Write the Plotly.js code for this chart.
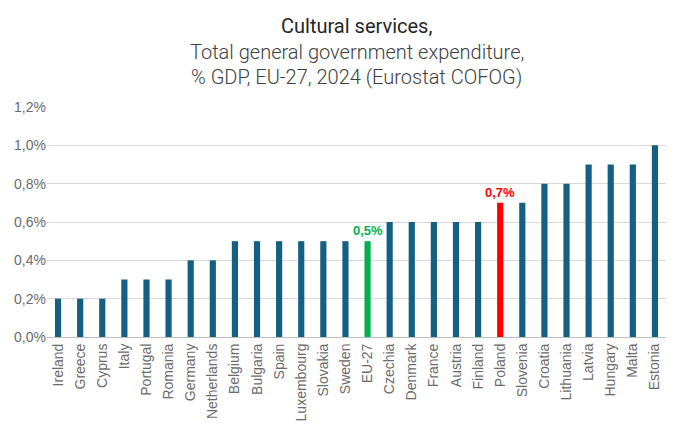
<!DOCTYPE html>
<html>
<head>
<meta charset="utf-8">
<script src="https://cdn.plot.ly/plotly-3.0.1.min.js"></script>
<style>
  html, body { margin: 0; padding: 0; background: #fff; }
  #chart { width: 680px; height: 426px; }
</style>
</head>
<body>
<div id="chart"></div>
<script>
const countries = ['Ireland', 'Greece', 'Cyprus', 'Italy', 'Portugal', 'Romania', 'Germany',
  'Netherlands', 'Belgium', 'Bulgaria', 'Spain', 'Luxembourg', 'Slovakia', 'Sweden', 'EU-27',
  'Czechia', 'Denmark', 'France', 'Austria', 'Finland', 'Poland', 'Slovenia', 'Croatia',
  'Lithuania', 'Latvia', 'Hungary', 'Malta', 'Estonia'];
const values = [0.2, 0.2, 0.2, 0.3, 0.3, 0.3, 0.4, 0.4, 0.5, 0.5, 0.5, 0.5, 0.5, 0.5, 0.5,
  0.6, 0.6, 0.6, 0.6, 0.6, 0.7, 0.7, 0.8, 0.8, 0.9, 0.9, 0.9, 1.0];
const highlighted = { 'EU-27': '#00b050', 'Poland': '#ff0000' };
const titleLines = ['Cultural services,', 'Total general government expenditure,',
  '% GDP, EU-27, 2024 (Eurostat COFOG)'];

const barColors = countries.map(c => highlighted[c] || '#156082');

const labelNotes = countries
  .map((c, i) => ({ c, v: values[i] }))
  .filter(d => highlighted[d.c])
  .map(d => ({
    x: d.c, y: d.v, xref: 'x', yref: 'y', yanchor: 'bottom', yshift: 1,
    text: d.v.toFixed(1).replace('.', ',') + '%', showarrow: false,
    font: { family: 'Liberation Sans, Arial, sans-serif', size: 13, color: highlighted[d.c], weight: 'bold' }
  }));

const titleNotes = titleLines.map((t, i) => ({
  xref: 'paper', yref: 'paper', x: 0.5, y: 1, xanchor: 'center', yanchor: 'middle',
  yshift: 81 - i * 25.5, text: t, showarrow: false,
  font: { family: 'Roboto, sans-serif', size: 20, weight: i === 0 ? 400 : 300,
    color: i === 0 ? '#262626' : '#404040' }
}));

const trace = {
  type: 'bar', x: countries, y: values,
  marker: { color: barColors },
  hoverinfo: 'x+y'
};

const layout = {
  width: 680, height: 426,
  margin: { l: 47, r: 14, t: 107, b: 89 },
  paper_bgcolor: '#fff', plot_bgcolor: '#fff',
  separators: ',.',
  bargap: 0.72,
  showlegend: false,
  font: { family: 'Liberation Sans, Arial, sans-serif', color: '#595959' },
  xaxis: {
    tickangle: -90, tickfont: { size: 14, color: '#6b6b6b' },
    showline: true, linecolor: '#bfbfbf', linewidth: 1, ticks: '', fixedrange: true
  },
  yaxis: {
    range: [0, 1.2], dtick: 0.2, tickformat: '.1f', ticksuffix: '%',
    tickfont: { size: 14, color: '#6b6b6b' },
    gridcolor: '#d9d9d9', zeroline: false, ticks: '', fixedrange: true
  },
  annotations: titleNotes.concat(labelNotes)
};

Plotly.newPlot('chart', [trace], layout, { staticPlot: true });
</script>
</body>
</html>
